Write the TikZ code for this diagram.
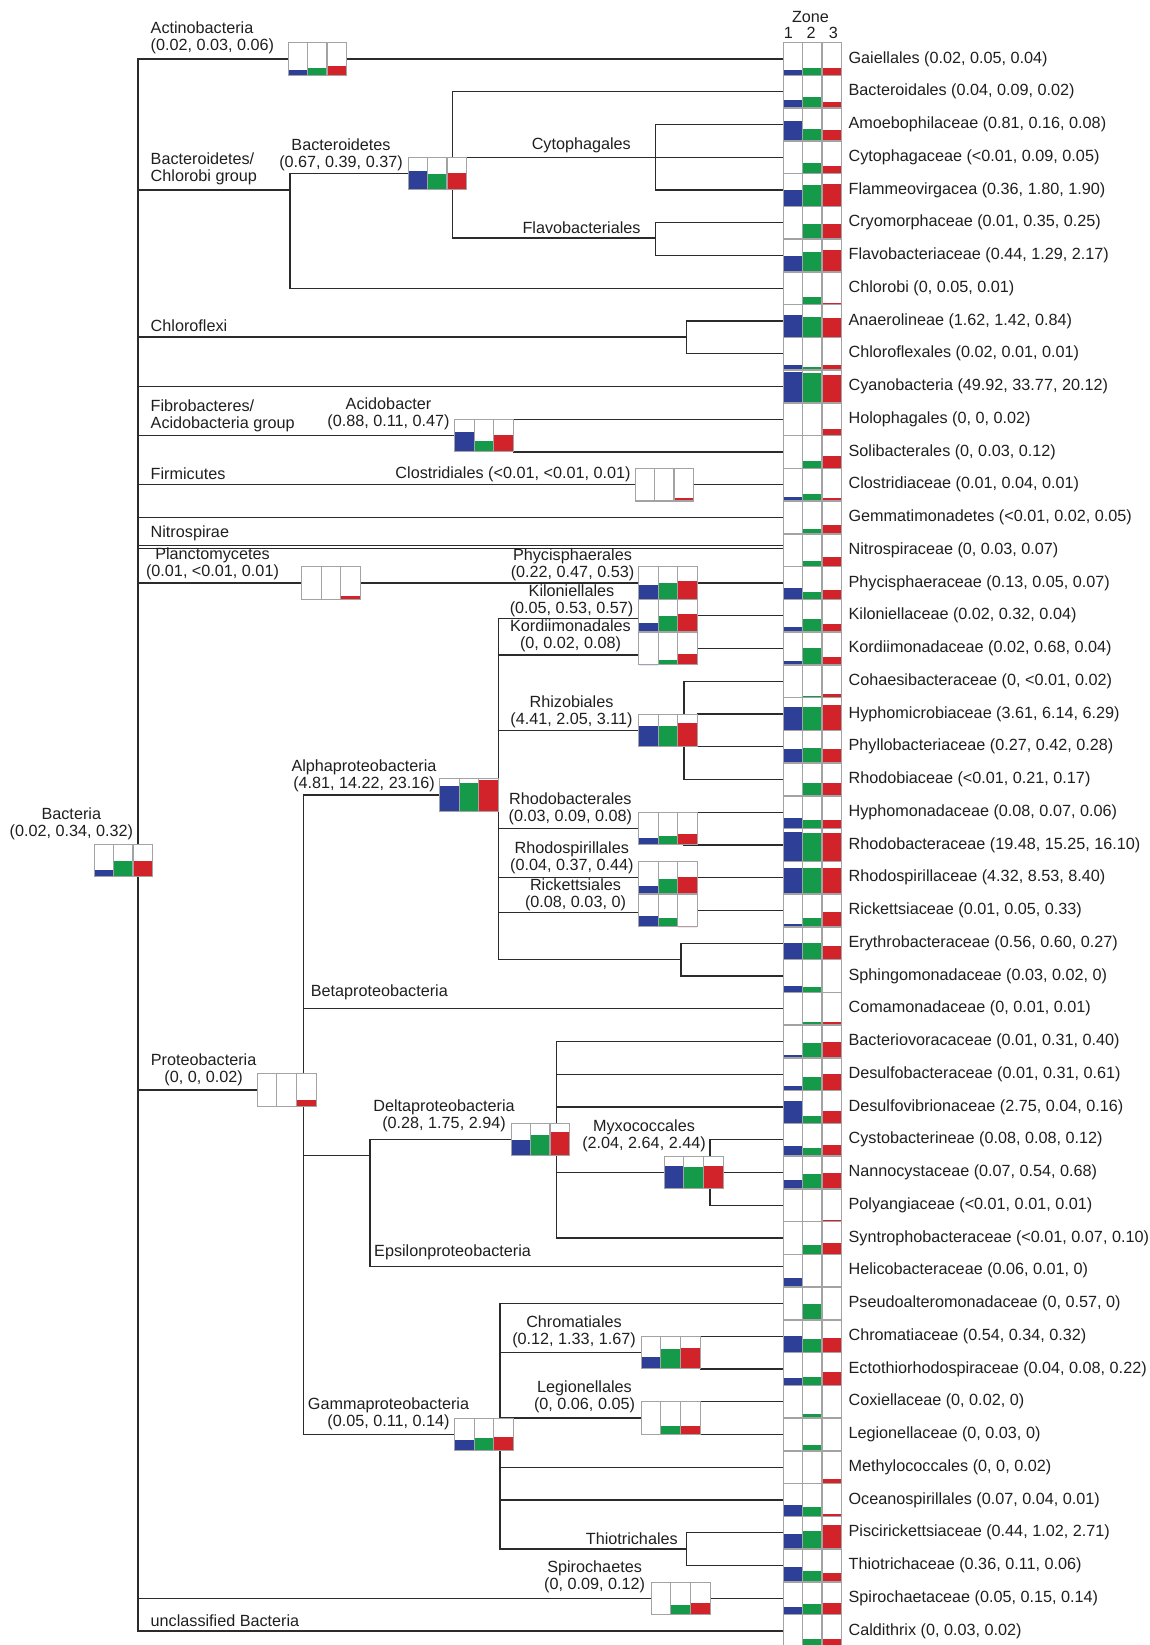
\documentclass[tikz,border=0pt]{standalone}
\usepackage{fontspec}
\setmainfont{Liberation Sans}
\usepackage{tikz}
\usetikzlibrary{positioning, calc, backgrounds}
\definecolor{zoneblue}{HTML}{2E3F98}
\definecolor{zonegreen}{HTML}{149A48}
\definecolor{zonered}{HTML}{D2232A}
\definecolor{framegray}{HTML}{A3A3A3}
\definecolor{treeline}{HTML}{2B2B2B}
% three zone bars inside a box node: name, blue, green, red (fraction of height)
\newcommand{\zonebars}[4]{%
	\fill[zoneblue] (#1.south west) rectangle ++(19.47,{-#2*32});
	\fill[zonegreen] ([xshift=19.47pt]#1.south west) rectangle ++(19.47,{-#3*32});
	\fill[zonered] ([xshift=38.93pt]#1.south west) rectangle ++(19.47,{-#4*32});
	\draw[cellframe] (#1.south west) rectangle (#1.north east);
	\draw[cellframe] ([xshift=19.47pt]#1.south west) -- ([xshift=19.47pt]#1.north west);
	\draw[cellframe] ([xshift=38.93pt]#1.south west) -- ([xshift=38.93pt]#1.north west);
}

\begin{document}
\begin{tikzpicture}[
		x=1pt, y=-1pt,
		zbox/.style={rectangle, minimum width=58.4pt, minimum height=32pt, inner sep=0pt, fill=white},
		cellframe/.style={draw=framegray, line width=1.1pt},
		branch/.style={draw=treeline, line width=1.3pt},
		lbl/.style={inner sep=0pt, align=center, text=black!88, font=\fontsize{16.2}{17}\selectfont},
		leaflbl/.style={lbl, anchor=west},
	]
		\useasboundingbox (0,0) rectangle (1149,1645);

		%Leaves
		\foreach \i/\txt/\b/\g/\r in {
			1/{Gaiellales (0.02, 0.05, 0.04)}/.16/.21/.24,
			2/{Bacteroidales (0.04, 0.09, 0.02)}/.26/.34/.18,
			3/{Amoebophilaceae (0.81, 0.16, 0.08)}/.60/.37/.34,
			4/{Cytophagaceae (<0.01, 0.09, 0.05)}/0/.33/.24,
			5/{Flammeovirgacea (0.36, 1.80, 1.90)}/.50/.66/.68,
			6/{Cryomorphaceae (0.01, 0.35, 0.25)}/0/.46/.46,
			7/{Flavobacteriaceae (0.44, 1.29, 2.17)}/.50/.60/.68,
			8/{Chlorobi (0, 0.05, 0.01)}/0/.23/.06,
			9/{Anaerolineae (1.62, 1.42, 0.84)}/.69/.64/.61,
			10/{Chloroflexales (0.02, 0.01, 0.01)}/.17/.08/.14,
			11/{Cyanobacteria (49.92, 33.77, 20.12)}/.97/.92/.86,
			12/{Holophagales (0, 0, 0.02)}/0/0/.20,
			13/{Solibacterales (0, 0.03, 0.12)}/0/.21/.37,
			14/{Clostridiaceae (0.01, 0.04, 0.01)}/.12/.22/.08,
			15/{Gemmatimonadetes (<0.01, 0.02, 0.05)}/0/.16/.26,
			16/{Nitrospiraceae (0, 0.03, 0.07)}/0/.16/.28,
			17/{Phycisphaeraceae (0.13, 0.05, 0.07)}/.36/.21/.28,
			18/{Kiloniellaceae (0.02, 0.32, 0.04)}/.16/.42/.24,
			19/{Kordiimonadaceae (0.02, 0.68, 0.04)}/.13/.52/.23,
			20/{Cohaesibacteraceae (0, <0.01, 0.02)}/0/.03/.12,
			21/{Hyphomicrobiaceae (3.61, 6.14, 6.29)}/.72/.74/.79,
			22/{Phyllobacteriaceae (0.27, 0.42, 0.28)}/.44/.46/.44,
			23/{Rhodobiaceae (<0.01, 0.21, 0.17)}/0/.39/.39,
			24/{Hyphomonadaceae (0.08, 0.07, 0.06)}/.32/.26/.26,
			25/{Rhodobacteraceae (19.48, 15.25, 16.10)}/.90/.87/.88,
			26/{Rhodospirillaceae (4.32, 8.53, 8.40)}/.82/.82/.82,
			27/{Rickettsiaceae (0.01, 0.05, 0.33)}/.07/.26/.47,
			28/{Erythrobacteraceae (0.56, 0.60, 0.27)}/.53/.53/.42,
			29/{Sphingomonadaceae (0.03, 0.02, 0)}/.19/.16/0,
			30/{Comamonadaceae (0, 0.01, 0.01)}/0/.08/.08,
			31/{Bacteriovoracaceae (0.01, 0.31, 0.40)}/.08/.45/.48,
			32/{Desulfobacteraceae (0.01, 0.31, 0.61)}/.13/.41/.53,
			33/{Desulfovibrionaceae (2.75, 0.04, 0.16)}/.68/.21/.37,
			34/{Cystobacterineae (0.08, 0.08, 0.12)}/.32/.24/.35,
			35/{Nannocystaceae (0.07, 0.54, 0.68)}/.26/.47/.50,
			36/{Polyangiaceae (<0.01, 0.01, 0.01)}/0/0/.05,
			37/{Syntrophobacteraceae (<0.01, 0.07, 0.10)}/0/.30/.35,
			38/{Helicobacteraceae (0.06, 0.01, 0)}/.28/0/0,
			39/{Pseudoalteromonadaceae (0, 0.57, 0)}/0/.50/0,
			40/{Chromatiaceae (0.54, 0.34, 0.32)}/.50/.42/.45,
			41/{Ectothiorhodospiraceae (0.04, 0.08, 0.22)}/.22/.27/.42,
			42/{Coxiellaceae (0, 0.02, 0)}/0/.13/0,
			43/{Legionellaceae (0, 0.03, 0)}/0/.19/0,
			44/{Methylococcales (0, 0, 0.02)}/0/0/.15,
			45/{Oceanospirillales (0.07, 0.04, 0.01)}/.35/.29/.06,
			46/{Piscirickettsiaceae (0.44, 1.02, 2.71)}/.47/.56/.74,
			47/{Thiotrichaceae (0.36, 0.11, 0.06)}/.47/.32/.26,
			48/{Spirochaetaceae (0.05, 0.15, 0.14)}/.23/.34/.37,
			49/{Caldithrix (0, 0.03, 0.02)}/0/.25/.27}{
			\node[zbox] (leaf\i) at (812.5, {59+(\i-1)*32.75}) {};
			\zonebars{leaf\i}{\b}{\g}{\r}
			\node[leaflbl, right=6.5pt of leaf\i] (taxon\i) {\txt};
		}

		\node[lbl] (zonelbl) at (810.5, 16.7) {Zone};
		\node[lbl] (zone1) at (788.3, 33.3) {1};
		\node[lbl] (zone2) at (811, 33.3) {2};
		\node[lbl] (zone3) at (833.3, 33.3) {3};

		%Group boxes
		\node[zbox] (bacteria) at (123.5, 860.5) {};
		\zonebars{bacteria}{.20}{.49}{.49}
		\node[zbox] (actino) at (317.5, 59) {};
		\zonebars{actino}{.17}{.22}{.29}
		\node[zbox] (bacteroid) at (437.5, 173.5) {};
		\zonebars{bacteroid}{.58}{.50}{.52}
		\node[zbox] (acido) at (484, 435.6) {};
		\zonebars{acido}{.61}{.33}{.53}
		\node[zbox] (clost) at (664.5, 484.75) {};
		\zonebars{clost}{.02}{.02}{.09}
		\node[zbox] (plancto) at (331, 583) {};
		\zonebars{plancto}{.02}{.02}{.10}
		\node[zbox] (phycis) at (668, 583) {};
		\zonebars{phycis}{.43}{.50}{.56}
		\node[zbox] (kilon) at (668, 615.75) {};
		\zonebars{kilon}{.29}{.51}{.56}
		\node[zbox] (kordi) at (668, 648.5) {};
		\zonebars{kordi}{0}{.16}{.32}
		\node[zbox] (rhizo) at (668, 730.4) {};
		\zonebars{rhizo}{.64}{.64}{.74}
		\node[zbox] (alpha) at (469, 795) {};
		\zonebars{alpha}{.79}{.89}{.96}
		\node[zbox] (rhodobact) at (668, 828.6) {};
		\zonebars{rhodobact}{.21}{.29}{.34}
		\node[zbox] (rhodospir) at (668, 877.75) {};
		\zonebars{rhodospir}{.24}{.46}{.52}
		\node[zbox] (ricketts) at (668, 910.5) {};
		\zonebars{ricketts}{.33}{.26}{0}
		\node[zbox] (proteo) at (286.8, 1090) {};
		\zonebars{proteo}{0}{0}{.20}
		\node[zbox] (delta) at (540.5, 1139.5) {};
		\zonebars{delta}{.48}{.65}{.73}
		\node[zbox] (myxo) at (693.8, 1172.5) {};
		\zonebars{myxo}{.70}{.69}{.70}
		\node[zbox] (gamma) at (484.2, 1434.3) {};
		\zonebars{gamma}{.33}{.38}{.41}
		\node[zbox] (chromat) at (670.8, 1352.6) {};
		\zonebars{chromat}{.38}{.61}{.66}
		\node[zbox] (legion) at (670.8, 1418.1) {};
		\zonebars{legion}{0}{.25}{.26}
		\node[zbox] (spiro) at (680.8, 1598.25) {};
		\zonebars{spiro}{0}{.30}{.37}

		%Labels
		\node[lbl] (bacterialbl) at (71.3, 823.3) {Bacteria\\(0.02, 0.34, 0.32)};
		\node[lbl, anchor=west, align=left] (actinolbl) at (150.5, 38) {Actinobacteria\\(0.02, 0.03, 0.06)};
		\node[lbl, anchor=west, align=left] (bcglbl) at (150.5, 169) {Bacteroidetes/\\Chlorobi group};
		\node[lbl] (bacteroidlbl) at (341, 154.5) {Bacteroidetes\\(0.67, 0.39, 0.37)};
		\node[lbl] (cytolbl) at (581.3, 145.7) {Cytophagales};
		\node[lbl] (flavolbl) at (581.5, 227.3) {Flavobacteriales};
		\node[lbl, anchor=west] (chlfxlbl) at (150.5, 326) {Chloroflexi};
		\node[lbl, anchor=west, align=left] (fibrolbl) at (150.5, 415.5) {Fibrobacteres/\\Acidobacteria group};
		\node[lbl] (acidolbl) at (388.5, 413.8) {Acidobacter\\(0.88, 0.11, 0.47)};
		\node[lbl, anchor=west] (firmlbl) at (150.5, 474) {Firmicutes};
		\node[lbl] (clostlbl) at (513, 474) {Clostridiales (<0.01, <0.01, 0.01)};
		\node[lbl, anchor=west] (nitrolbl) at (150.5, 533.8) {Nitrospirae};
		\node[lbl] (planctolbl) at (212.5, 564) {Planctomycetes\\(0.01, <0.01, 0.01)};
		\node[lbl] (phycislbl) at (572.5, 564.5) {Phycisphaerales\\(0.22, 0.47, 0.53)};
		\node[lbl] (kilonlbl) at (571.5, 600.8) {Kiloniellales\\(0.05, 0.53, 0.57)};
		\node[lbl] (kordilbl) at (570.5, 636.3) {Kordiimonadales\\(0, 0.02, 0.08)};
		\node[lbl] (rhizolbl) at (571.5, 711.5) {Rhizobiales\\(4.41, 2.05, 3.11)};
		\node[lbl] (alphalbl) at (364, 775.3) {Alphaproteobacteria\\(4.81, 14.22, 23.16)};
		\node[lbl] (rhodobactlbl) at (570.3, 808.7) {Rhodobacterales\\(0.03, 0.09, 0.08)};
		\node[lbl] (rhodospirlbl) at (571.8, 857.7) {Rhodospirillales\\(0.04, 0.37, 0.44)};
		\node[lbl] (rickettslbl) at (575.5, 894.7) {Rickettsiales\\(0.08, 0.03, 0)};
		\node[lbl, anchor=west] (betalbl) at (310.7, 992.7) {Betaproteobacteria};
		\node[lbl] (proteolbl) at (203.6, 1070) {Proteobacteria\\(0, 0, 0.02)};
		\node[lbl] (deltalbl) at (444, 1115.7) {Deltaproteobacteria\\(0.28, 1.75, 2.94)};
		\node[lbl] (myxolbl) at (644, 1136) {Myxococcales\\(2.04, 2.64, 2.44)};
		\node[lbl, anchor=west] (epsilonlbl) at (374, 1252.7) {Epsilonproteobacteria};
		\node[lbl] (chromatlbl) at (574, 1331.7) {Chromatiales\\(0.12, 1.33, 1.67)};
		\node[lbl] (legionlbl) at (584.5, 1397) {Legionellales\\(0, 0.06, 0.05)};
		\node[lbl] (gammalbl) at (388.5, 1414) {Gammaproteobacteria\\(0.05, 0.11, 0.14)};
		\node[lbl] (thiolbl) at (631.8, 1538.3) {Thiotrichales};
		\node[lbl] (spirolbl) at (594.6, 1576.7) {Spirochaetes\\(0, 0.09, 0.12)};
		\node[lbl, anchor=west] (unclasslbl) at (150.5, 1621) {unclassified Bacteria};

		%Junctions
		\coordinate (root) at (138, 860.5);
		\coordinate (bcg) at (290, 190);
		\coordinate (bactv) at (452.7, 173.5);
		\coordinate (cytoj) at (655.3, 157.25);
		\coordinate (flavoj) at (655.3, 238);
		\coordinate (chlfx) at (686.7, 337);
		\coordinate (rhizoj) at (684, 730.4);
		\coordinate (rhodobactj) at (684, 828.6);
		\coordinate (erythj) at (681, 959.6);
		\coordinate (proteoj) at (303.3, 1090);
		\coordinate (deltaj) at (370, 1155.7);
		\coordinate (deltav) at (556.7, 1139.5);
		\coordinate (myxov) at (710, 1172.5);
		\coordinate (gammav) at (500, 1434.3);
		\coordinate (thioj) at (686.7, 1549);

		%Lines
		\begin{scope}[on background layer]
			\draw[branch] (root) |- (actino.west);
			\draw[branch] (actino.east) -- (leaf1.west);
			\draw[branch] (root) |- (bcg);
			\draw[branch] (bcg) |- (bacteroid.west);
			\draw[branch] (bcg) |- (leaf8.west);
			\draw[branch] (bactv) |- (leaf2.west);
			\draw[branch] (bactv) |- (leaf4.west);
			\draw[branch] (cytoj) |- (leaf3.west);
			\draw[branch] (cytoj) |- (leaf5.west);
			\draw[branch] (bactv) |- (flavoj);
			\draw[branch] (flavoj) |- (leaf6.west);
			\draw[branch] (flavoj) |- (leaf7.west);
			\draw[branch] (root) |- (chlfx);
			\draw[branch] (chlfx) |- (leaf9.west);
			\draw[branch] (chlfx) |- (leaf10.west);
			\draw[branch] (root) |- (leaf11.west);
			\draw[branch] (root) |- (acido.west);
			\draw[branch] (acido.east |- leaf12.west) -- (leaf12.west);
			\draw[branch] (acido.east |- leaf13.west) -- (leaf13.west);
			\draw[branch] (root) |- (clost.west);
			\draw[branch] (clost.east) -- (leaf14.west);
			\draw[branch] (root) |- (leaf15.west);
			\draw[branch] (root) |- ([yshift=5pt]leaf16.west);
			\draw[branch] (root) |- ([yshift=2pt]leaf16.west);
			\draw[branch] (root) |- (plancto.west);
			\draw[branch] (plancto.east) -- (phycis.west);
			\draw[branch] (phycis.east) -- (leaf17.west);

			\draw[branch] (root) |- (proteo.west);
			\draw[branch] (proteoj) |- (alpha.west);
			\draw[branch] (alpha.east) |- ([yshift=-3pt]kilon.west);
			\draw[branch] (kilon.east) -- (leaf18.west);
			\draw[branch] (alpha.east) |- ([yshift=-6.5pt]kordi.west);
			\draw[branch] (kordi.east) -- (leaf19.west);
			\draw[branch] (alpha.east) |- (rhizo.west);
			\draw[branch] (rhizoj) |- (leaf20.west);
			\draw[branch] (rhizo.east |- leaf21.west) -- (leaf21.west);
			\draw[branch] (rhizo.east |- leaf22.west) -- (leaf22.west);
			\draw[branch] (rhizoj) |- (leaf23.west);
			\draw[branch] (alpha.east) |- (rhodobact.west);
			\draw[branch] (rhodobactj) |- (leaf24.west);
			\draw[branch] (rhodobactj) |- (leaf25.west);
			\draw[branch] (alpha.east) |- (rhodospir.west);
			\draw[branch] (rhodospir.east) -- (leaf26.west);
			\draw[branch] (alpha.east) |- ([yshift=-2pt]ricketts.west);
			\draw[branch] (ricketts.east) -- (leaf27.west);
			\draw[branch] (alpha.east) |- (erythj);
			\draw[branch] (erythj) |- (leaf28.west);
			\draw[branch] (erythj) |- (leaf29.west);

			\draw[branch] (proteoj) |- (leaf30.west);
			\draw[branch] (proteoj) |- (deltaj);
			\draw[branch] (deltaj) |- (delta.west);
			\draw[branch] (deltaj) |- ([yshift=4pt]leaf38.west);
			\draw[branch] (deltav) |- (leaf31.west);
			\draw[branch] (deltav) |- (leaf32.west);
			\draw[branch] (deltav) |- (leaf33.west);
			\draw[branch] (deltav) |- (myxo.west);
			\draw[branch] (deltav) |- (leaf37.west);
			\draw[branch] (myxov) |- (leaf34.west);
			\draw[branch] (myxo.east) -- (leaf35.west);
			\draw[branch] (myxov) |- (leaf36.west);

			\draw[branch] (proteoj) |- (gamma.west);
			\draw[branch] (gammav) |- (leaf39.west);
			\draw[branch] (gammav) |- (chromat.west);
			\draw[branch] (chromat.east |- leaf40.west) -- (leaf40.west);
			\draw[branch] (chromat.east |- leaf41.west) -- (leaf41.west);
			\draw[branch] (gammav) |- (legion.west);
			\draw[branch] (legion.east |- leaf42.west) -- (leaf42.west);
			\draw[branch] (legion.east |- leaf43.west) -- (leaf43.west);
			\draw[branch] (gammav) |- (leaf44.west);
			\draw[branch] (gammav) |- (leaf45.west);
			\draw[branch] (gammav) |- (thioj);
			\draw[branch] (thioj) |- (leaf46.west);
			\draw[branch] (thioj) |- (leaf47.west);

			\draw[branch] (root) |- (spiro.west);
			\draw[branch] (spiro.east) -- (leaf48.west);
			\draw[branch] (root) |- (leaf49.west);
		\end{scope}
	\end{tikzpicture}
\end{document}
